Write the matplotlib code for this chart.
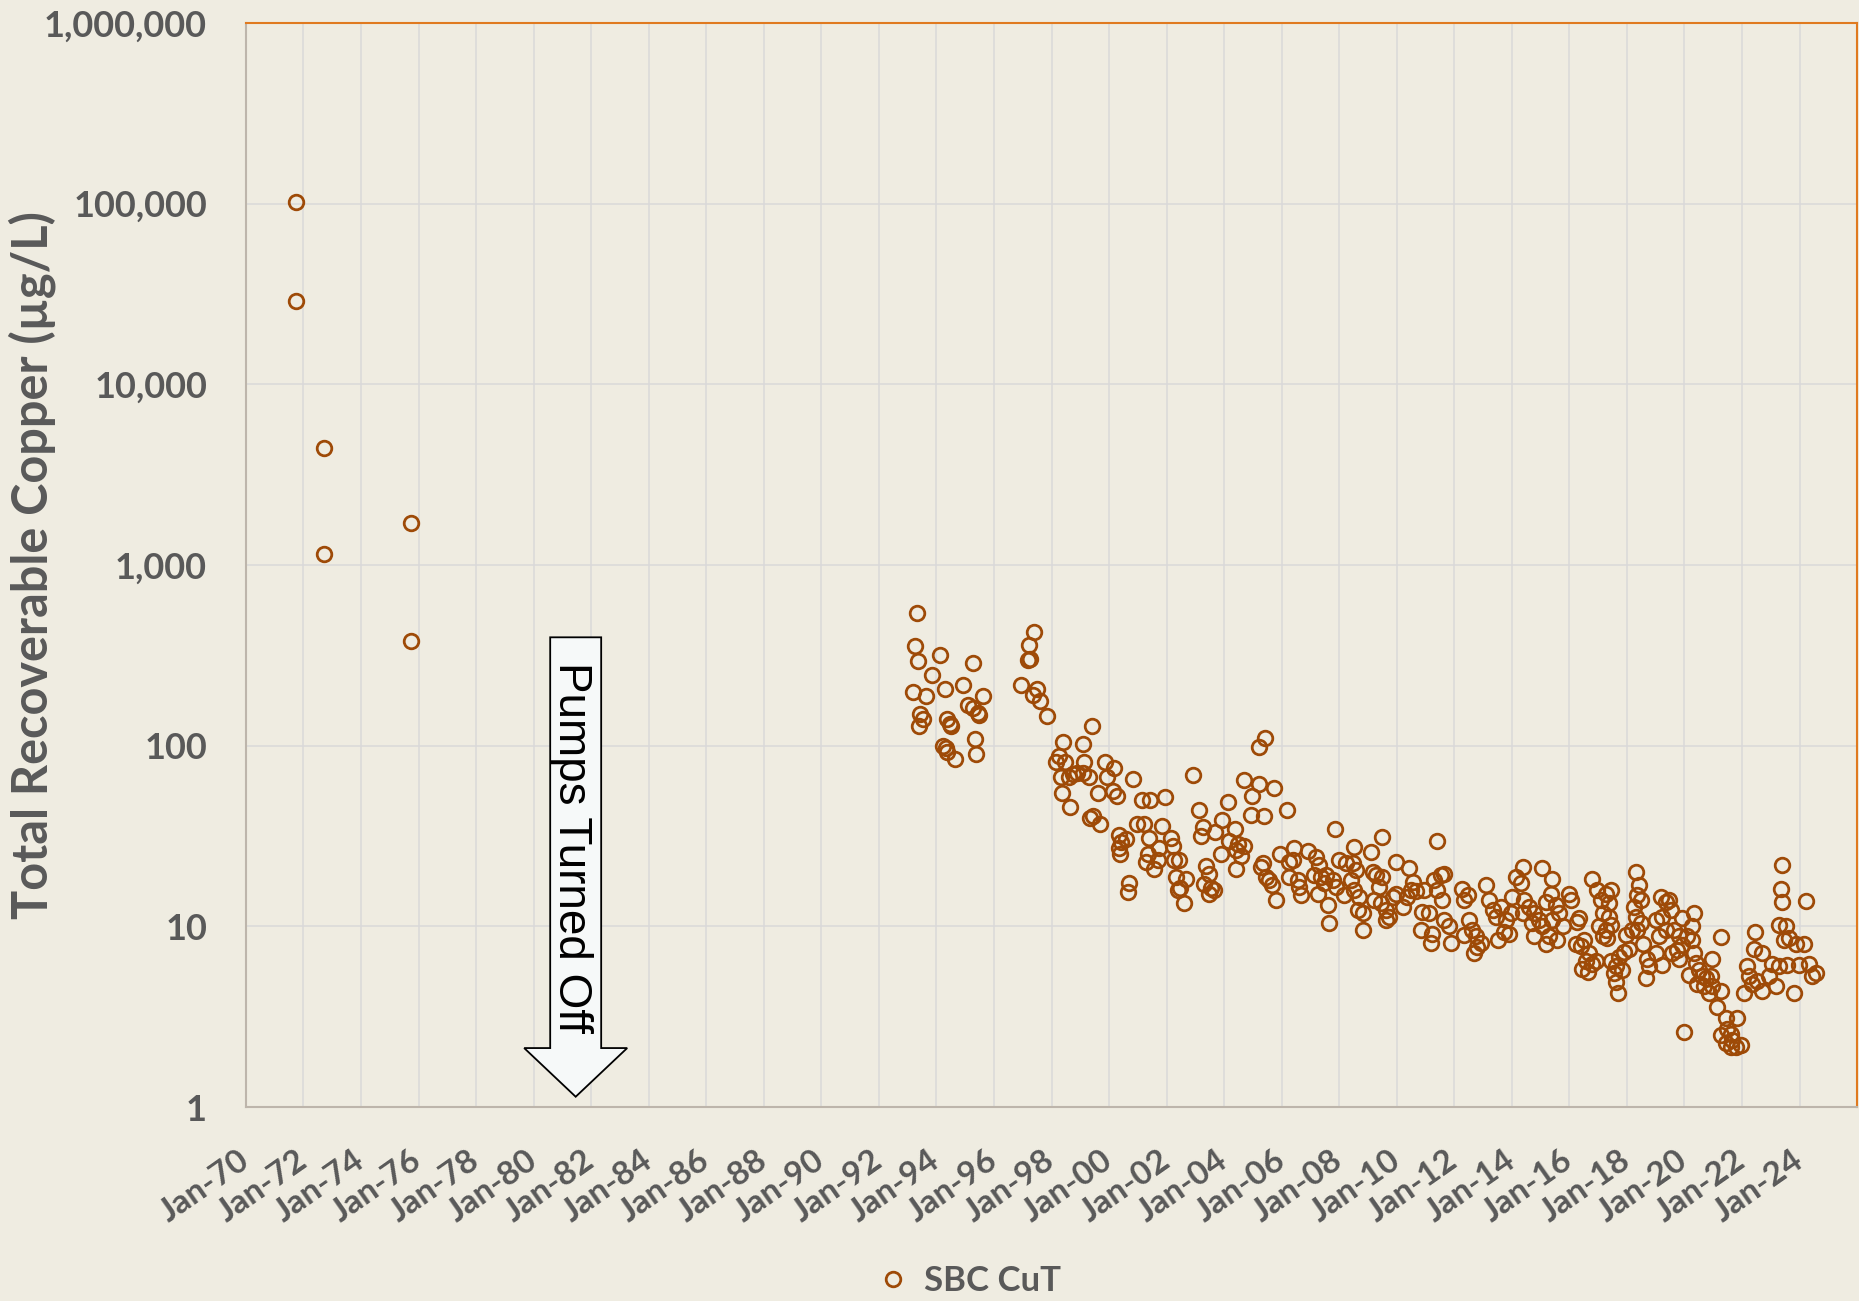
import numpy as np
import matplotlib
matplotlib.use("Agg")
import matplotlib.pyplot as plt
import matplotlib.dates as mdates
from matplotlib.ticker import FuncFormatter, NullLocator
from matplotlib.patches import Polygon
from datetime import datetime, timedelta

# sample dates (decimal years) and total recoverable copper (ug/L)
yr_1970s = [1971.74, 1971.74, 1972.70, 1972.70, 1975.73, 1975.73]
cu_1970s = [102000, 28800, 4470, 1150, 1700, 380]

yr_1990s = [1993.33, 1993.27, 1993.37, 1994.12, 1993.83, 1995.28, 1993.18, 1993.62, 1994.31,
            1994.92, 1995.61, 1993.43, 1993.52, 1993.38, 1994.37, 1994.49, 1994.47, 1995.10,
            1995.26, 1995.44, 1995.49, 1995.33, 1994.22, 1994.33, 1994.38, 1994.63, 1995.38,
            1997.38, 1997.23, 1997.17, 1997.26, 1996.94, 1997.35, 1997.50, 1997.60, 1997.85,
            1999.40, 1998.41, 1999.11, 1998.27, 1998.16, 1998.48, 1999.14, 1999.87, 2000.18,
            1998.33, 1998.60, 1998.73, 1998.90, 1999.08, 1999.29, 1999.93, 2000.82, 1998.37,
            1998.64, 1999.60, 2000.13, 2000.26, 1999.33, 1999.43, 1999.69]
cu_1990s = [546, 357, 296, 317, 247, 287, 197, 188, 207,
            218, 189, 149, 140, 128, 140, 129, 132, 168,
            161, 151, 147, 109, 100, 97, 92, 84, 90,
            425, 360, 297, 300, 218, 190, 205, 176, 146,
            128, 105, 102, 88, 81, 81, 81, 81, 75,
            67, 67, 70, 71, 71, 67, 67, 65, 55,
            46, 55, 56, 53, 40, 41, 37]

yr_2000s = [2000.36, 2000.59, 2000.42, 2000.36, 2000.38, 2000.68, 2000.67, 2000.96, 2001.23,
            2001.84, 2001.38, 2001.34, 2001.28, 2001.57, 2001.69, 2001.75, 2002.15, 2002.23,
            2002.27, 2002.44, 2002.33, 2002.68, 2002.47, 2002.38, 2002.61, 2002.90, 2001.15,
            2001.43, 2001.95, 2005.20, 2005.42, 2004.70, 2005.22, 2005.74, 2004.97, 2004.12,
            2003.14, 2004.93, 2005.39, 2006.17, 2003.26, 2003.20, 2003.69, 2003.92, 2004.38,
            2004.18, 2004.47, 2004.68, 2004.41, 2004.59, 2004.41, 2003.89, 2003.37, 2003.46,
            2003.31, 2003.54, 2003.66, 2003.48, 2005.36, 2005.28, 2005.45, 2005.57, 2005.66,
            2005.80, 2005.94, 2006.44, 2006.26, 2006.38, 2006.26, 2006.55, 2006.67, 2006.61,
            2006.93, 2007.19, 2007.30, 2007.13, 2007.36, 2007.48, 2007.25, 2007.60, 2007.66,
            2007.54, 2007.77, 2007.89, 2007.85, 2008.00, 2008.24, 2008.18]
cu_2000s = [32, 30.5, 29.3, 27, 25, 17.3, 15.5, 37, 37,
            36, 31, 25, 22.7, 20.8, 23.2, 27, 31, 28,
            23.3, 23.3, 18.8, 18.4, 16.4, 15.9, 13.4, 69, 50,
            50, 52, 98, 110, 64.4, 61, 58, 53, 48.6,
            44, 41.6, 41, 44, 35.5, 31.8, 33.3, 38.7, 34.8,
            29.6, 28.7, 27.7, 26.4, 24.5, 20.9, 25.1, 21.6, 19.6,
            17.1, 16.3, 15.9, 15.2, 22.3, 21.3, 18.8, 18.0, 16.9,
            14.0, 25.3, 27, 22.7, 23.3, 18.8, 18, 14.9, 16.5,
            26, 24.2, 21.8, 19.2, 18.8, 17.3, 15.2, 13.1, 10.4,
            19.2, 18.0, 16.5, 34.8, 23.3, 22.3, 14.9]

yr_2010s = [2008.52, 2009.10, 2009.50, 2009.97, 2010.43, 2011.41, 2008.47, 2008.58, 2008.41,
            2008.52, 2008.70, 2008.64, 2008.81, 2008.81, 2009.16, 2009.27, 2009.50, 2009.39,
            2009.22, 2009.45, 2009.62, 2009.62, 2009.74, 2009.85, 2009.97, 2010.20, 2010.37,
            2010.49, 2010.66, 2010.55, 2010.95, 2010.89, 2011.12, 2010.83, 2011.23, 2011.18,
            2011.30, 2011.53, 2011.64, 2011.41, 2011.58, 2011.64, 2011.82, 2011.88, 2012.28,
            2012.46, 2012.34, 2012.51, 2012.34, 2012.63, 2012.75, 2012.69, 2012.92, 2012.80,
            2013.10, 2013.21, 2013.33, 2013.45, 2013.62, 2013.79, 2013.50, 2013.73, 2013.91,
            2014.37, 2015.06, 2015.41, 2014.14, 2014.31, 2014.02, 2013.97, 2014.42, 2014.60,
            2014.37, 2014.77, 2014.71, 2014.95, 2014.77, 2015.18, 2015.29, 2015.58, 2015.06,
            2015.41, 2015.35, 2015.18, 2015.53, 2015.99, 2016.05, 2015.64, 2015.76, 2016.33,
            2016.28, 2016.22, 2016.39, 2016.51, 2016.68, 2016.57, 2016.45, 2016.63, 2016.80,
            2016.91, 2016.80, 2016.97, 2017.26, 2017.43, 2017.09, 2017.38, 2017.15, 2017.38,
            2017.03, 2017.26, 2017.43, 2017.32, 2017.15, 2017.43, 2017.61, 2017.72, 2017.90,
            2018.07, 2017.55, 2017.61, 2017.70, 2017.84, 2018.30, 2018.42, 2018.36, 2018.48,
            2018.25, 2018.30, 2018.48, 2018.19, 2017.96, 2018.36, 2018.54, 2018.71, 2018.77,
            2018.65, 2019.00, 2019.23, 2019.17, 2019.35, 2019.23, 2019.00, 2019.35, 2019.11]
cu_2010s = [27.6, 25.8, 31.4, 22.7, 21, 29.6, 22.3, 20.5, 18,
            15.9, 14.6, 12.3, 11.8, 9.5, 20, 19.2, 18.8, 16.5,
            14.0, 13.4, 12.3, 10.8, 11.3, 14.6, 15.2, 12.8, 14.6,
            15.9, 15.6, 17.7, 15.9, 12, 11.8, 9.5, 9.1, 8.1,
            18, 19.2, 19.6, 15.9, 14, 10.8, 10, 8.1, 16.2,
            14.9, 14, 10.8, 8.9, 9.6, 8.8, 7.1, 8.1, 7.7,
            16.9, 14, 12.3, 11.3, 12.8, 10.8, 8.4, 9.3, 9.1,
            21.3, 21, 18.4, 18.8, 17.3, 14.6, 11.8, 14.0, 12.8,
            11.8, 11.8, 10.4, 10.8, 8.8, 8.0, 8.8, 8.4, 10,
            10.8, 15.2, 13.7, 13.1, 15.2, 14, 11.8, 10, 11.1,
            10.6, 8.0, 7.8, 8.4, 7.1, 6.4, 5.8, 5.6, 6.2,
            6.4, 18.4, 15.9, 15.2, 15.9, 14, 13.4, 11.8, 11.3,
            10, 9.5, 10.2, 8.6, 8.8, 6.4, 6.0, 6.8, 7.2,
            7.5, 5.5, 4.9, 4.3, 5.7, 20, 16.9, 14.9, 14,
            12.8, 11.3, 10.4, 9.5, 9.0, 9.5, 8.0, 6.6, 6.0,
            5.2, 7.1, 6.1, 14.6, 13.7, 11.3, 10.8, 9.5, 8.8]

yr_2020s = [2019.46, 2019.52, 2019.93, 2020.33, 2020.27, 2019.64, 2019.81, 2020.10, 2020.27,
            2019.75, 2019.93, 2019.58, 2020.33, 2019.81, 2020.39, 2020.16, 2020.50, 2020.62,
            2020.74, 2020.91, 2020.45, 2020.68, 2020.97, 2021.26, 2020.94, 2020.85, 2021.26,
            2021.14, 2021.43, 2021.84, 2021.26, 2021.49, 2021.60, 2021.43, 2021.60, 2021.78,
            2021.95, 2021.66, 2019.98, 2022.45, 2022.41, 2022.70, 2022.18, 2022.24, 2022.07,
            2022.36, 2022.53, 2022.70, 2022.94, 2023.17, 2023.05, 2023.28, 2023.57, 2023.46,
            2023.28, 2023.54, 2023.63, 2023.86, 2024.15, 2023.98, 2024.32, 2024.44, 2024.56,
            2023.80, 2023.40, 2023.37, 2023.40, 2024.23]
cu_2020s = [14, 12.3, 11.1, 11.9, 10, 9.6, 8.8, 8.8, 8.4,
            7.4, 7.9, 7.1, 7.1, 6.6, 6.3, 5.4, 5.7, 5.3,
            5.2, 5.3, 4.8, 4.7, 4.7, 4.4, 6.6, 4.3, 8.7,
            3.6, 3.1, 3.1, 2.5, 2.7, 2.55, 2.25, 2.16, 2.16,
            2.2, 2.35, 2.6, 9.3, 7.5, 7.1, 6.0, 5.3, 4.3,
            4.8, 5.0, 4.4, 5.3, 4.7, 6.2, 6.0, 6.1, 8.4,
            10.2, 10.1, 8.6, 8.0, 8.0, 6.1, 6.2, 5.3, 5.5,
            4.3, 21.8, 16, 13.7, 13.8]

y_ticks = [1, 10, 100, 1000, 10000, 100000, 1000000]
x_tick_years = list(range(1970, 2025, 2))

# "Pumps Turned Off" arrow: centre date and values for top / head base / tip
pump_yr = 1981.46
pump_top, pump_head, pump_tip = 398, 2.12, 1.14


def to_date(y):
    base = int(y)
    return datetime(base, 1, 1) + timedelta(days=(y - base) * 365.25)


years = yr_1970s + yr_1990s + yr_2000s + yr_2010s + yr_2020s
copper = cu_1970s + cu_1990s + cu_2000s + cu_2010s + cu_2020s
dates = [to_date(y) for y in years]

bg = "#EFECE1"
grey = "#595959"
brown = "#9E4A07"

fig = plt.figure(figsize=(18.59, 13.01), dpi=100, facecolor=bg)
ax = fig.add_axes([0.1323, 0.1491, 0.8667, 0.8332], facecolor=bg)

ax.plot(dates, copper, linestyle="none", marker="o", markersize=10.5,
        markerfacecolor="none", markeredgecolor=brown, markeredgewidth=2.0,
        label="SBC CuT", zorder=4, clip_on=False)

ax.set_yscale("log")
ax.set_ylim(1, 1e6)
ax.set_yticks(y_ticks)
ax.yaxis.set_minor_locator(NullLocator())
ax.yaxis.set_major_formatter(FuncFormatter(lambda v, p: f"{v:,.0f}"))

ax.set_xlim(mdates.date2num(datetime(1970, 1, 1)), mdates.date2num(datetime(2026, 1, 1)))
ax.set_xticks([mdates.date2num(datetime(y, 1, 1)) for y in x_tick_years])
ax.xaxis.set_major_formatter(mdates.DateFormatter("%b-%y"))

ax.grid(True, color="#D9D9D9", linewidth=1.1, zorder=0)
ax.set_axisbelow(True)

for s in ("left", "bottom"):
    ax.spines[s].set_color("#BDB5AB")
    ax.spines[s].set_linewidth(1.5)
for s in ("top", "right"):
    ax.spines[s].set_color("#E07A1F")
    ax.spines[s].set_linewidth(1.5)

ax.tick_params(axis="both", length=0)
ax.tick_params(axis="y", pad=28, labelsize=26, labelcolor=grey)
ax.tick_params(axis="x", pad=36, labelsize=24, labelcolor=grey)
for t in ax.get_yticklabels():
    t.set_fontfamily("Lato")
    t.set_fontweight("bold")
for t in ax.get_xticklabels():
    t.set_fontfamily("Lato")
    t.set_fontweight("bold")
    t.set_rotation(35)
    t.set_ha("right")
    t.set_va("center")
    t.set_rotation_mode("anchor")

ax.set_ylabel("Total Recoverable Copper (µg/L)", fontsize=35, fontweight="bold",
              color=grey, family="Lato")
ax.yaxis.set_label_coords(-0.118, 0.5)

# arrow annotation
x0 = mdates.date2num(to_date(pump_yr))
bw, hw = 0.886 * 365.25, 1.79 * 365.25
arrow = Polygon([(x0 - bw, pump_top), (x0 + bw, pump_top), (x0 + bw, pump_head),
                 (x0 + hw, pump_head), (x0, pump_tip), (x0 - hw, pump_head),
                 (x0 - bw, pump_head)], closed=True, facecolor="#F6F9F9",
                edgecolor="black", linewidth=1.3, zorder=5)
ax.add_patch(arrow)
ax.text(x0 - 0.57 * 365.25, 291, "Pumps Turned Off", rotation=-90, rotation_mode="anchor",
        ha="left", va="baseline", fontsize=33, family="Liberation Sans", color="black", zorder=6)

leg = fig.legend(loc="lower center", bbox_to_anchor=(0.5207, -0.021), frameon=False,
                 handlelength=1.0, handletextpad=0.4,
                 prop={"family": "Lato", "weight": "bold", "size": 25})
for t in leg.get_texts():
    t.set_color(grey)

fig.savefig("out.png", dpi=100, facecolor=bg)
